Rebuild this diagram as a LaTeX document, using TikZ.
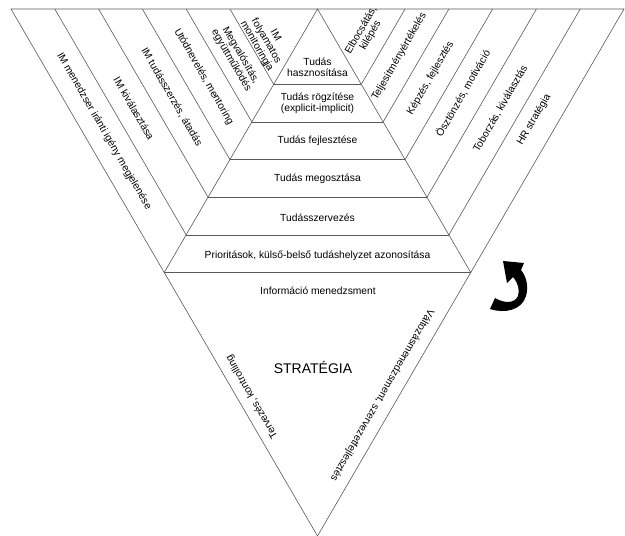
\documentclass[tikz,border=0pt]{standalone}
\usepackage{fontspec}
\setmainfont{Liberation Sans}
\usetikzlibrary{calc}
\begin{document}
\begin{tikzpicture}[x=1pt,y=-1pt,
  ln/.style={draw=black!65, line width=0.6pt},
  lbl/.style={font=\fontsize{10.3}{10.8}\selectfont, inner sep=0pt, align=center, text=black},
  big/.style={font=\fontsize{14}{16}\selectfont, inner sep=0pt, text=black}]
\useasboundingbox (0,0) rectangle (625,536);
\coordinate (A) at (11,9);
\coordinate (B) at (624,9);
\coordinate (C) at (317.5,536);
\coordinate (T) at (317.5,9);
\coordinate (L) at ($(A)!0.5!(C)$);
\coordinate (R) at ($(B)!0.5!(C)$);
% outline
\draw[ln] (A) -- (B) -- (C) -- cycle;
\draw[ln] (T) -- (L) -- (R) -- cycle;
% pyramid levels
\foreach \j in {2,...,6}
  \draw[ln] ($(T)!\j/7!(L)$) -- ($(T)!\j/7!(R)$);
% side strips
\foreach \j in {2,...,6} {
  \draw[ln] ($(T)!\j/7!(A)$) -- ($(T)!\j/7!(L)$);
  \draw[ln] ($(T)!\j/7!(B)$) -- ($(T)!\j/7!(R)$);
}
% pyramid labels
\node[lbl] (p1) at (317.5,67) {Tudás\\hasznosítása};
\node[lbl] (p2) at (317.5,103.5) {Tudás rögzítése\\(explicit-implicit)};
\node[lbl] (p3) at (317.5,141) {Tudás fejlesztése};
\node[lbl] (p4) at (317.5,179) {Tudás megosztása};
\node[lbl] (p5) at (317.5,218) {Tudásszervezés};
\node[lbl] (p6) at (317.5,256) {Prioritások, külső-belső tudáshelyzet azonosítása};
% bottom triangle
\node[lbl] (b1) at (318,291) {Információ menedzsment};
\node[big] (b2) at (313,367) {STRATÉGIA};
\node[lbl, rotate=120] (b3) at (252,397) {Tervezés, kontrolling};
\node[lbl, rotate=240] (b4) at (382,395) {Változásmenedzsment, szervezetfejlesztés};
% left strips
\node[lbl, rotate=-60] (l1) at (104,131.3) {IM menedzser iránti igény megjelenése};
\node[lbl, rotate=-60] (l2) at (134,108.4) {IM kiválasztása};
\node[lbl, rotate=-60] (l3) at (171.7,97.1) {IM tudásszerzés, átadás};
\node[lbl, rotate=-60] (l4) at (203.7,76.8) {Utódnevelés, mentoring};
\node[lbl, rotate=-60] (l5) at (236,58) {Megvalósítás,\\együttműködés};
\node[lbl, rotate=-60] (l6) at (266,41) {IM\\folyamatos\\monitoringja};
% right strips
\node[lbl, rotate=60] (r1) at (366,33) {Elbocsátás,\\kilépés};
\node[lbl, rotate=60] (r2) at (399.3,56.6) {Teljesítményértékelés};
\node[lbl, rotate=60] (r3) at (430.5,78.2) {Képzés, fejlesztés};
\node[lbl, rotate=60] (r4) at (463,93.2) {Ösztönzés, motiváció};
\node[lbl, rotate=60] (r5) at (500.4,108.8) {Toborzás, kiválasztás};
\node[lbl, rotate=60] (r6) at (534,119.8) {HR stratégia};
% curved arrow
\fill[black] (490,309) .. controls (505,314) and (522,310) .. (526,296)
  .. controls (529,286) and (526,276) .. (521,270) -- (524,263) -- (503,261)
  -- (507,283) -- (513,277) .. controls (518,283) and (520,290) .. (518,296)
  .. controls (515,303) and (505,304) .. (495,298) -- cycle;
\end{tikzpicture}
\end{document}
